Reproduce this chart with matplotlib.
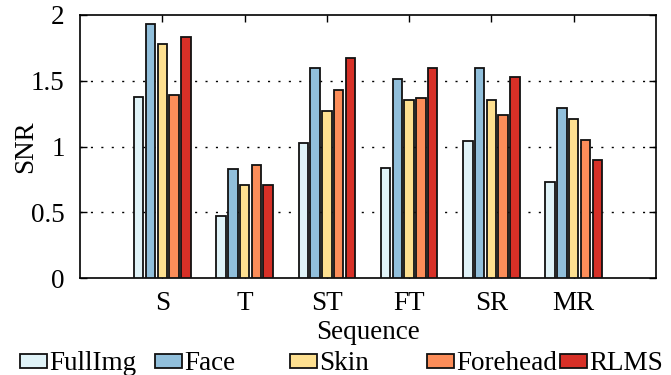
import matplotlib.pyplot as plt
import numpy as np

plt.rcParams['font.family'] = ['Liberation Serif', 'DejaVu Serif']
plt.rcParams['font.size'] = 19.5

sequences = ['S', 'T', 'ST', 'FT', 'SR', 'MR']
methods = ['FullImg', 'Face', 'Skin', 'Forehead', 'RLMS']
fullimg = [1.38, 0.47, 1.03, 0.84, 1.04, 0.73]
face = [1.93, 0.83, 1.60, 1.51, 1.60, 1.29]
skin = [1.78, 0.71, 1.27, 1.35, 1.35, 1.21]
forehead = [1.39, 0.86, 1.43, 1.37, 1.24, 1.05]
rlms = [1.83, 0.71, 1.67, 1.60, 1.53, 0.90]
colors = ['#e0f3f8', '#91bfdb', '#fee090', '#fc8d59', '#d73027']

series = [fullimg, face, skin, forehead, rlms]

fig = plt.figure(figsize=(6.71, 3.75), dpi=100)
ax = fig.add_axes([80/671, 1 - 278/375, 576/671, 263/375])

x = np.arange(1, len(sequences) + 1)
step = 0.143
width = 0.115
bars = []
for i, vals in enumerate(series):
	b = ax.bar(x + (i - 2) * step, vals, width, color=colors[i], edgecolor='#111111',
	           linewidth=1.3, label=methods[i], zorder=3)
	bars.append(b)

ax.set_xlim(0, 7)
ax.set_ylim(0, 2)
ax.set_xticks(x)
ax.set_xticklabels(sequences)
ax.set_yticks([0, 0.5, 1, 1.5, 2])
ax.set_yticklabels(['0', '0.5', '1', '1.5', '2'])
ax.tick_params(direction='in', top=True, right=True, length=5, width=1)
ax.tick_params(axis='x', pad=9)
ax.tick_params(axis='y', pad=11)
for s in ax.spines.values():
	s.set_linewidth(1.2)

for yv in [0.5, 1, 1.5]:
	ax.axhline(yv, color='black', linewidth=1, linestyle=(0, (1.5, 6)), zorder=1)

ax.set_ylabel('SNR')
ax.yaxis.set_label_coords(-0.072, 0.5)
ax.set_xlabel('Sequence', labelpad=3)

# gnuplot-like legend with fixed column positions
legend_x = [20, 155, 290, 427, 560]
for i, b in enumerate(bars):
	leg = fig.legend([b], [methods[i]], loc='center left',
	                 bbox_to_anchor=(legend_x[i] / 671, 1 - 364 / 375),
	                 frameon=False, handlelength=1.0, handleheight=0.45,
	                 handletextpad=0.08, borderpad=0, borderaxespad=0)

fig.savefig('out.png', dpi=100)
plt.close()
